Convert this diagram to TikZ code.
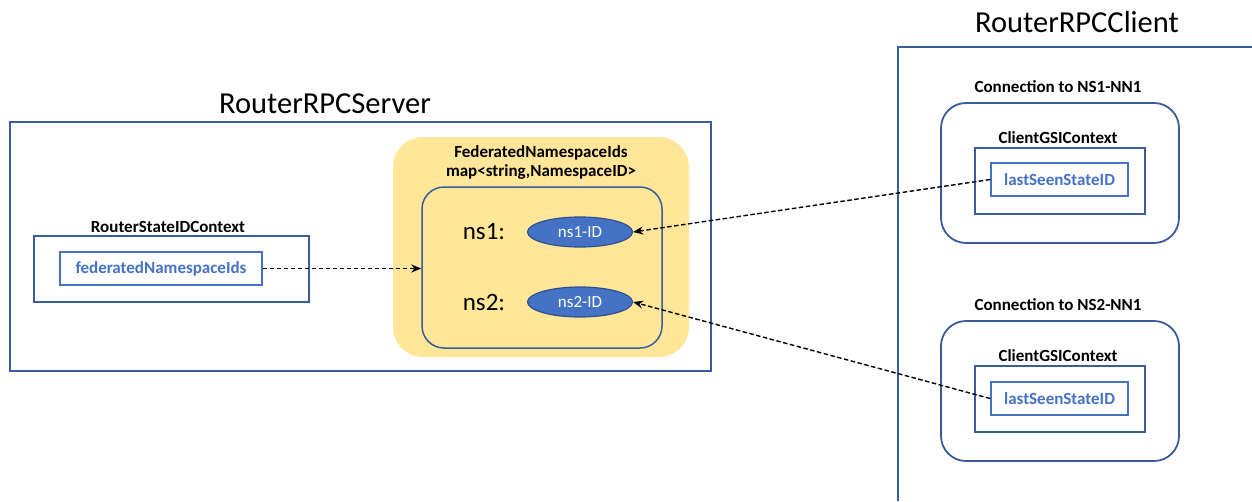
\documentclass[tikz,border=0pt]{standalone}
\usepackage{fontspec}
\setmainfont{Carlito}
\usetikzlibrary{arrows.meta,shapes.geometric}
\definecolor{boxblue}{HTML}{3B5C9C}
\definecolor{lightblue}{HTML}{4472C4}
\definecolor{ellborder}{HTML}{2F528F}
\definecolor{yel}{HTML}{FFE699}
\tikzset{
  frame/.style={draw=boxblue, line width=1.8pt},
  valbox/.style={draw=lightblue, line width=1.6pt, text=lightblue, font=\fontsize{17}{19}\selectfont\bfseries, inner sep=0pt},
  lbl/.style={font=\fontsize{17}{19}\selectfont\bfseries, inner sep=0pt},
  title/.style={font=\fontsize{30.5}{34}\selectfont, inner sep=0pt},
  nslbl/.style={font=\fontsize{25}{28}\selectfont, inner sep=0pt},
  idell/.style={ellipse, draw=ellborder, line width=1.2pt, fill=lightblue, text=white, font=\fontsize{17}{19}\selectfont, minimum width=105pt, minimum height=30pt, inner sep=0pt},
  link/.style={line width=1.4pt, dash pattern=on 4.5pt off 2.5pt, -{Stealth[length=10pt,width=8pt]}},
}
\begin{document}
\begin{tikzpicture}[x=1pt,y=-1pt]
\useasboundingbox (0,0) rectangle (1252,501);
% server
\node[title] (srvT) at (325,104) {RouterRPCServer};
\node[frame, rectangle, minimum width=701pt, minimum height=249pt, inner sep=0pt] (srv) at (360.5,246.5) {};
% RouterStateIDContext
\node[lbl] (rsT) at (168,227) {RouterStateIDContext};
\node[frame, rectangle, minimum width=275pt, minimum height=66pt, inner sep=0pt] (rs) at (171.5,269) {};
\node[valbox, minimum width=202pt, minimum height=33pt] (fed) at (161,268.5) {federatedNamespaceIds};
% yellow
\node[fill=yel, rounded corners=30pt, minimum width=296pt, minimum height=220pt, inner sep=0pt] (yb) at (541,247) {};
\node[lbl, align=center] (ybT) at (541,162) {FederatedNamespaceIds\\map<string,NamespaceID>};
\node[draw=boxblue, line width=1.5pt, rounded corners=22pt, minimum width=240pt, minimum height=161pt, inner sep=0pt] (map) at (542,267.5) {};
\node[nslbl] (ns1) at (484,232) {ns1:};
\node[nslbl] (ns2) at (484,302) {ns2:};
\node[idell] (id1) at (580,232) {ns1-ID};
\node[idell] (id2) at (580,302) {ns2-ID};
% client
\node[title] (cliT) at (1077,22) {RouterRPCClient};
\coordinate (cTR) at (1252,47);
\coordinate (cTL) at (898,47);
\coordinate (cBL) at (898,501);
\draw[boxblue, line width=1.8pt] (cTR) -- (cTL) -- (cBL);
% connection 1
\node[lbl] (c1T) at (1058,87) {Connection to NS1-NN1};
\node[frame, rounded corners=25pt, minimum width=238pt, minimum height=140pt, inner sep=0pt] (c1) at (1060,173) {};
\node[lbl] (g1T) at (1058,138) {ClientGSIContext};
\node[frame, minimum width=170pt, minimum height=66pt, inner sep=0pt] (g1) at (1060,181) {};
\node[valbox, minimum width=137pt, minimum height=33pt] (l1) at (1059.5,179.5) {lastSeenStateID};
% connection 2
\node[lbl] (c2T) at (1058,305) {Connection to NS2-NN1};
\node[frame, rounded corners=25pt, minimum width=238pt, minimum height=140pt, inner sep=0pt] (c2) at (1060,391) {};
\node[lbl] (g2T) at (1058,356) {ClientGSIContext};
\node[frame, minimum width=170pt, minimum height=66pt, inner sep=0pt] (g2) at (1060,399) {};
\node[valbox, minimum width=137pt, minimum height=33pt] (l2) at (1059.5,398.5) {lastSeenStateID};
% links
\draw[link] (fed.east) -- (fed.east -| map.west);
\draw[link] (l1.west) -- (id1.east);
\draw[link] (l2.west) -- (id2.east);
\end{tikzpicture}
\end{document}
